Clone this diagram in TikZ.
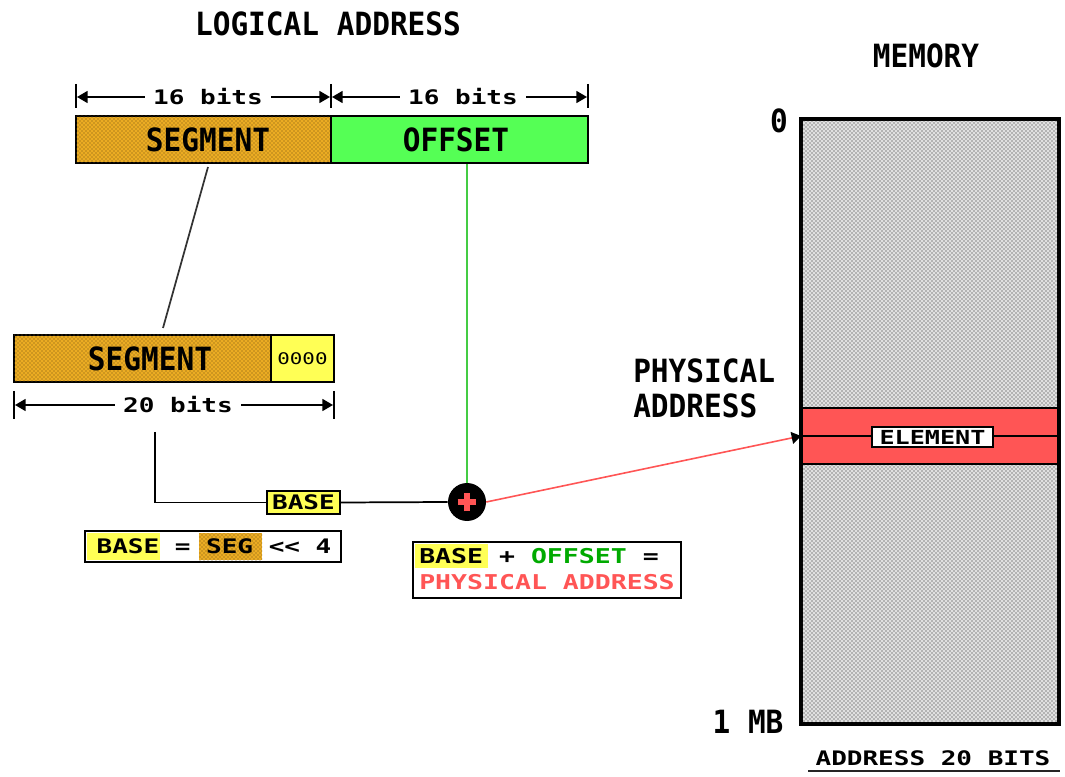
\documentclass[tikz,border=0pt]{standalone}
\usepackage{fontspec}
\newfontfamily\pixN[FakeStretch=0.92]{DejaVu Sans Mono}
\newfontfamily\pixW[FakeStretch=1.3]{DejaVu Sans Mono}
\usetikzlibrary{arrows.meta,patterns}
\definecolor{segcol}{RGB}{235,172,35}
\definecolor{segdot}{RGB}{110,80,20}
\definecolor{offgreen}{RGB}{85,255,85}
\definecolor{yel}{RGB}{255,255,85}
\definecolor{redc}{RGB}{255,85,85}
\definecolor{fgreen}{RGB}{0,170,0}
\definecolor{memdot}{RGB}{30,30,30}
\tikzset{
  big/.style={font=\pixN\bfseries\fontsize{24}{26}\selectfont, inner sep=0pt},
  wide/.style={font=\pixW\bfseries\fontsize{15}{17}\selectfont},
  thickbox/.style={draw=black, line width=2.2pt, inner sep=0pt},
  segfill/.style={fill=segcol, postaction={pattern=crosshatch dots, pattern color=segdot}},
  memfill/.style={fill=black!12, postaction={pattern=crosshatch dots, pattern color=memdot}},
  conn/.style={line width=1.3pt},
  dim/.style={line width=1.3pt, {Triangle[length=8pt,width=9pt]}-{Triangle[length=8pt,width=9pt]}},
  tick/.style={line width=1.3pt},
  dimlabel/.style={wide, fill=white, inner xsep=6pt, inner ysep=1pt},
  smallbox/.style={draw=black, line width=1.2pt, inner sep=0pt}
}
\begin{document}
\begin{tikzpicture}[x=0.75pt,y=-0.75pt]
\useasboundingbox (0,0) rectangle (1065,777);

% title
\node[big] (title) at (328,24) {LOGICAL ADDRESS};

% top dimension lines
\coordinate (t1a) at (76,84);  \coordinate (t1b) at (76,108);
\coordinate (t2a) at (331,84); \coordinate (t2b) at (331,108);
\coordinate (t3a) at (588,84); \coordinate (t3b) at (588,108);
\draw[tick] (t1a) -- (t1b);
\draw[tick] (t2a) -- (t2b);
\draw[tick] (t3a) -- (t3b);
\coordinate (d1l) at (77,97); \coordinate (d1r) at (330,97);
\coordinate (d2l) at (332,97); \coordinate (d2r) at (587,97);
\draw[dim] (d1l) -- (d1r);
\draw[dim] (d2l) -- (d2r);
\node[dimlabel] (b16a) at (208,97) {16 bits};
\node[dimlabel] (b16b) at (463,97) {16 bits};

% logical address boxes
\node[thickbox, segfill, minimum width=191.25pt, minimum height=35.25pt] (seg) at (203.5,139.5) {};
\node[thickbox, fill=offgreen, minimum width=192.75pt, minimum height=35.25pt] (off) at (459.5,139.5) {};
\node[big] (segt) at (208,139.5) {SEGMENT};
\node[big] (offt) at (456,139.5) {OFFSET};

% lower segment
\node[thickbox, segfill, minimum width=192.75pt, minimum height=35.25pt] (lseg) at (142.5,358.5) {};
\node[thickbox, fill=yel, minimum width=47.25pt, minimum height=35.25pt] (zero) at (302.5,358.5) {};
\node[big] (lsegt) at (150,358.5) {SEGMENT};
\node[font=\pixW\fontsize{12}{14}\selectfont, inner sep=0pt] (zerot) at (302.5,358.5) {0000};

% segment connector
\coordinate (sl1) at (208,167);
\coordinate (sl2) at (163,328);
\draw[conn, black!80] (sl1) -- (sl2);

% lower dimension
\coordinate (l1a) at (14,391); \coordinate (l1b) at (14,419);
\coordinate (l2a) at (334,391); \coordinate (l2b) at (334,419);
\draw[tick] (l1a) -- (l1b);
\draw[tick] (l2a) -- (l2b);
\coordinate (dl) at (15,405); \coordinate (dr) at (333,405);
\draw[dim] (dl) -- (dr);
\node[dimlabel] (b20) at (178,405) {20 bits};

% adder
\node[circle, fill=black, minimum size=28.5pt, inner sep=0pt] (pl) at (467,502) {};
\draw[redc, line width=4pt] ([xshift=-7pt]pl.center) -- ([xshift=7pt]pl.center);
\draw[redc, line width=4pt] ([yshift=-7pt]pl.center) -- ([yshift=7pt]pl.center);

% offset connector
\draw[offgreen!80!black, line width=1pt] (off.south -| pl.north) -- (pl.north);

% base connector
\coordinate (bstart) at (155,432);
\node[smallbox, fill=yel, minimum width=54.75pt, minimum height=17.25pt, wide] (base) at (303.5,502.5) {BASE};
\draw[conn] (bstart) |- (base.west);
\draw[conn] (base.east) -- (pl.west);

% equation box
\node[smallbox, fill=white, minimum width=192pt, minimum height=23.25pt] (eq) at (213,546.5) {};
\node[fill=yel, minimum width=54.75pt, minimum height=20.25pt, inner sep=0pt] (eqbase) at (123.5,546.5) {};
\node[segfill, minimum width=47.25pt, minimum height=20.25pt, inner sep=0pt] (eqseg) at (230.5,546.5) {};
\node[wide, inner sep=0pt, fill=none] (eqt) at (214,546.5) {BASE = SEG << 4};

% formula box
\node[smallbox, fill=white, minimum width=201pt, minimum height=42pt] (form) at (547,570) {};
\node[fill=yel, minimum width=54.75pt, minimum height=18pt, inner sep=0pt] (fbase) at (451.5,556) {};
\node[wide, anchor=west, inner sep=0pt, font=\pixW\bfseries\fontsize{15.3}{18}\selectfont] (f1) at (419,556) {BASE + \textcolor{fgreen}{OFFSET} =};
\node[wide, anchor=west, inner sep=0pt, font=\pixW\bfseries\fontsize{15.3}{18}\selectfont, text=redc] (f2) at (419,582) {PHYSICAL ADDRESS};

% memory
\node[big] (memt) at (926,56) {MEMORY};
\node[thickbox, memfill, minimum width=192pt, minimum height=452.25pt] (mem) at (930,421.5) {};
\node[draw=black, line width=1.5pt, fill=redc, minimum width=192pt, minimum height=42pt, inner sep=0pt] (band) at (930,436) {};
\draw[line width=1.3pt] (band.west) -- (band.east);
\draw[line width=2.2pt] (mem.north west) rectangle (mem.south east);
\node[smallbox, fill=white, minimum width=90.75pt, minimum height=15pt, font=\pixW\bfseries\fontsize{14.5}{16}\selectfont] (elem) at (932.5,437) {ELEMENT};
\node[big] (zero0) at (779,121) {0};
\node[big] (onemb) at (748,722) {1 MB};
\node[wide, inner sep=0pt] (addr) at (933,758) {ADDRESS 20 BITS};
\coordinate (ul1) at (808,771); \coordinate (ul2) at (1060,771);
\draw[line width=2pt, black!85] (ul1) -- (ul2);

% physical address label
\node[big, anchor=west, align=left, font=\pixN\bfseries\fontsize{24}{26.25}\selectfont] (phys) at (633,388) {PHYSICAL\\ADDRESS};

% physical address arrow
\draw[redc, line width=1.2pt, -{Triangle[length=7pt,width=9pt,color=black]}] (pl.east) -- (band.west);
\end{tikzpicture}
\end{document}
